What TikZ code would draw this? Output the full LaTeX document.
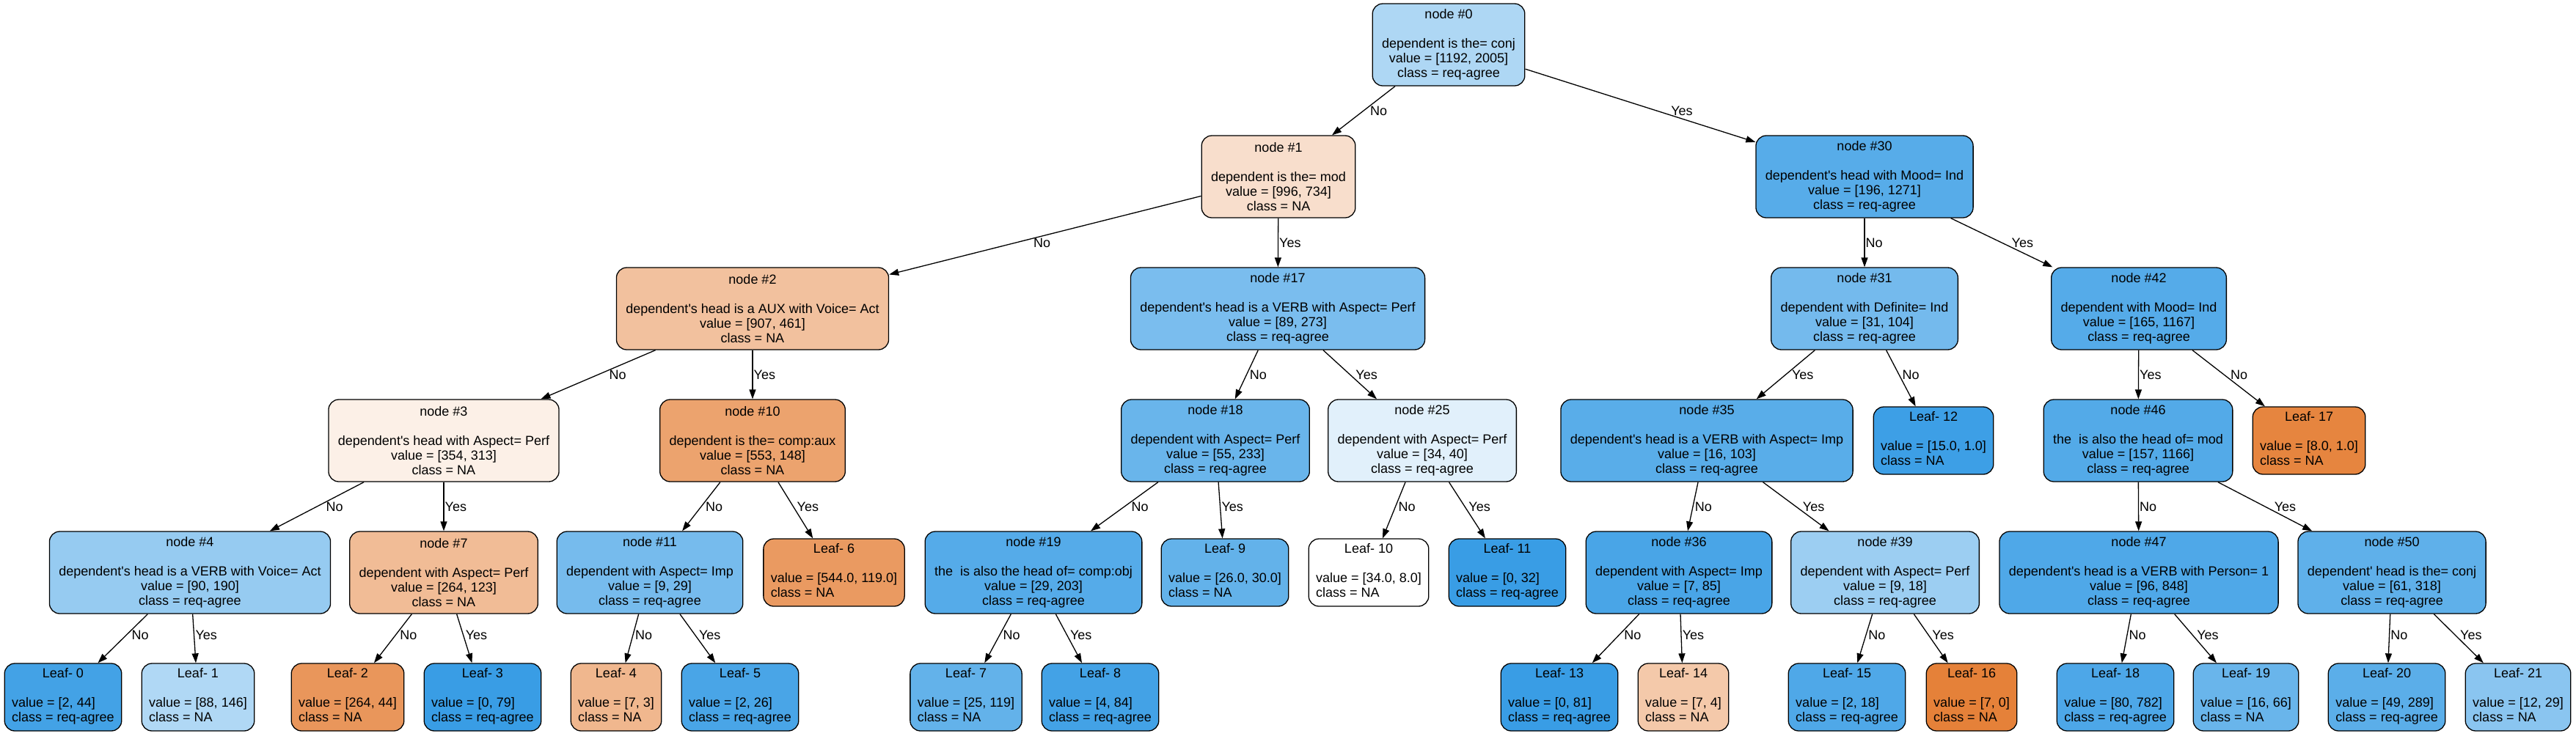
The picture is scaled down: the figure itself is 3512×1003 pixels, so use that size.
\documentclass[tikz,border=0pt]{standalone}
\usepackage{fontspec}
\setmainfont{Liberation Sans}[Ligatures=TeXOff]
\usetikzlibrary{arrows.meta,calc}
\definecolor{reqagree}{HTML}{399DE5}
\definecolor{clsna}{HTML}{E58139}
\newcommand{\splitlbl}[4]{node \##1\\[10pt]#2\\value = #3\\class = #4}
\newcommand{\leaflbl}[3]{Leaf- #1\\[10pt]\begin{tabular}[t]{@{}l@{}}value = #2\\class = #3\end{tabular}}
\tikzset{
  every picture/.style={line width=0.65pt, font=\fontsize{9}{10}\selectfont},
  splitbox/.style={draw=black, rounded corners=7pt, align=center, inner xsep=6.5pt, inner ysep=0pt, minimum height=56pt},
  leafbox/.style={draw=black, rounded corners=7pt, align=center, inner xsep=5pt, inner ysep=0pt, minimum height=46pt},
  link/.style={-{Triangle[length=6.5pt, width=4.5pt]}, draw=black},
  ans/.style={anchor=west, inner sep=0pt},
}

\begin{document}
\begin{tikzpicture}[x=0.5pt, y=-0.5pt]
\useasboundingbox (0,0) rectangle (3512,1003);
% depth 0 and 1
\node[splitbox, fill=reqagree!41] (n0) at (1975,61) {\splitlbl{0}{dependent is the= conj}{[1192, 2005]}{req-agree}};
\node[splitbox, fill=clsna!26] (n1) at (1743,241) {\splitlbl{1}{dependent is the= mod}{[996, 734]}{NA}};
\node[splitbox, fill=reqagree!85] (n30) at (2542,241) {\splitlbl{30}{dependent's head with Mood= Ind}{[196, 1271]}{req-agree}};
% depth 2
\node[splitbox, fill=clsna!49] (n2) at (1026,421) {\splitlbl{2}{dependent's head is a AUX with Voice= Act}{[907, 461]}{NA}};
\node[splitbox, fill=reqagree!67] (n17) at (1742,421) {\splitlbl{17}{dependent's head is a VERB with Aspect= Perf}{[89, 273]}{req-agree}};
\node[splitbox, fill=reqagree!70] (n31) at (2542,421) {\splitlbl{31}{dependent with Definite= Ind}{[31, 104]}{req-agree}};
\node[splitbox, fill=reqagree!86] (n42) at (2916,421) {\splitlbl{42}{dependent with Mood= Ind}{[165, 1167]}{req-agree}};
% depth 3
\node[splitbox, fill=clsna!12] (n3) at (605,601) {\splitlbl{3}{dependent's head with Aspect= Perf}{[354, 313]}{NA}};
\node[splitbox, fill=clsna!73] (n10) at (1026,601) {\splitlbl{10}{dependent is the= comp:aux}{[553, 148]}{NA}};
\node[splitbox, fill=reqagree!76] (n18) at (1657,601) {\splitlbl{18}{dependent with Aspect= Perf}{[55, 233]}{req-agree}};
\node[splitbox, fill=reqagree!15] (n25) at (1939,601) {\splitlbl{25}{dependent with Aspect= Perf}{[34, 40]}{req-agree}};
\node[splitbox, fill=reqagree!84] (n35) at (2327,601) {\splitlbl{35}{dependent's head is a VERB with Aspect= Imp}{[16, 103]}{req-agree}};
\node[leafbox, fill=reqagree!98] (l12) at (2636,601) {\leaflbl{12}{[15.0, 1.0]}{NA}};
\node[splitbox, fill=reqagree!87] (n46) at (2915,601) {\splitlbl{46}{the~ is also the head of= mod}{[157, 1166]}{req-agree}};
\node[leafbox, fill=clsna!97] (l17) at (3148,601) {\leaflbl{17}{[8.0, 1.0]}{NA}};
% depth 4
\node[splitbox, fill=reqagree!53] (n4) at (259,781) {\splitlbl{4}{dependent's head is a VERB with Voice= Act}{[90, 190]}{req-agree}};
\node[splitbox, fill=clsna!53] (n7) at (605,781) {\splitlbl{7}{dependent with Aspect= Perf}{[264, 123]}{NA}};
\node[splitbox, fill=reqagree!69] (n11) at (886,781) {\splitlbl{11}{dependent with Aspect= Imp}{[9, 29]}{req-agree}};
\node[leafbox, fill=clsna!80] (l6) at (1137,781) {\leaflbl{6}{[544.0, 119.0]}{NA}};
\node[splitbox, fill=reqagree!86] (n19) at (1409,781) {\splitlbl{19}{the~ is also the head of= comp:obj}{[29, 203]}{req-agree}};
\node[leafbox, fill=reqagree!79] (l9) at (1670,781) {\leaflbl{9}{[26.0, 30.0]}{NA}};
\node[leafbox, fill=white] (l10) at (1866,781) {\leaflbl{10}{[34.0, 8.0]}{NA}};
\node[leafbox, fill=reqagree] (l11) at (2055,781) {\leaflbl{11}{[0, 32]}{req-agree}};
\node[splitbox, fill=reqagree!92] (n36) at (2289,781) {\splitlbl{36}{dependent with Aspect= Imp}{[7, 85]}{req-agree}};
\node[splitbox, fill=reqagree!50] (n39) at (2570,781) {\splitlbl{39}{dependent with Aspect= Perf}{[9, 18]}{req-agree}};
\node[splitbox, fill=reqagree!89] (n47) at (2916,781) {\splitlbl{47}{dependent's head is a VERB with Person= 1}{[96, 848]}{req-agree}};
\node[splitbox, fill=reqagree!81] (n50) at (3261,781) {\splitlbl{50}{dependent' head is the= conj}{[61, 318]}{req-agree}};
% depth 5
\node[leafbox, fill=reqagree!95] (l0) at (86,951) {\leaflbl{0}{[2, 44]}{req-agree}};
\node[leafbox, fill=reqagree!40] (l1) at (270,951) {\leaflbl{1}{[88, 146]}{NA}};
\node[leafbox, fill=clsna!83] (l2) at (474,951) {\leaflbl{2}{[264, 44]}{NA}};
\node[leafbox, fill=reqagree] (l3) at (658,951) {\leaflbl{3}{[0, 79]}{req-agree}};
\node[leafbox, fill=clsna!57] (l4) at (840,951) {\leaflbl{4}{[7, 3]}{NA}};
\node[leafbox, fill=reqagree!92] (l5) at (1009,951) {\leaflbl{5}{[2, 26]}{req-agree}};
\node[leafbox, fill=reqagree!79] (l7) at (1317,951) {\leaflbl{7}{[25, 119]}{NA}};
\node[leafbox, fill=reqagree!95] (l8) at (1500,951) {\leaflbl{8}{[4, 84]}{req-agree}};
\node[leafbox, fill=reqagree] (l13) at (2126,951) {\leaflbl{13}{[0, 81]}{req-agree}};
\node[leafbox, fill=clsna!43] (l14) at (2295,951) {\leaflbl{14}{[7, 4]}{NA}};
\node[leafbox, fill=reqagree!89] (l15) at (2518,951) {\leaflbl{15}{[2, 18]}{req-agree}};
\node[leafbox, fill=clsna] (l16) at (2688,951) {\leaflbl{16}{[7, 0]}{NA}};
\node[leafbox, fill=reqagree!90] (l18) at (2884,951) {\leaflbl{18}{[80, 782]}{req-agree}};
\node[leafbox, fill=reqagree!76] (l19) at (3062,951) {\leaflbl{19}{[16, 66]}{NA}};
\node[leafbox, fill=reqagree!83] (l20) at (3254,951) {\leaflbl{20}{[49, 289]}{req-agree}};
\node[leafbox, fill=reqagree!59] (l21) at (3433,951) {\leaflbl{21}{[12, 29]}{NA}};
% branches, answer set just clear of the line
\foreach \a/\b/\t in {n0/n1/No, n0/n30/Yes, n1/n2/No, n1/n17/Yes, n2/n3/No, n2/n10/Yes,
    n3/n4/No, n3/n7/Yes, n4/l0/No, n4/l1/Yes, n7/l2/No, n7/l3/Yes, n10/n11/No, n10/l6/Yes,
    n11/l4/No, n11/l5/Yes, n17/n18/No, n17/n25/Yes, n18/n19/No, n18/l9/Yes, n19/l7/No, n19/l8/Yes,
    n25/l10/No, n25/l11/Yes, n30/n31/No, n30/n42/Yes, n31/n35/Yes, n31/l12/No, n35/n36/No, n35/n39/Yes,
    n36/l13/No, n36/l14/Yes, n39/l15/No, n39/l16/Yes, n42/n46/Yes, n42/l17/No, n46/n47/No, n46/n50/Yes,
    n47/l18/No, n47/l19/Yes, n50/l20/No, n50/l21/Yes}{
  \draw[link] (\a) -- (\b);
  \path let \p1=(\a.center), \p2=(\b.center), \n1={abs(\x2-\x1)*0.032+0.5} in
    node[ans] (t\a\b) at ($(\p1)!0.5!(\p2)+({\n1*1pt},0)$) {\t};
}
\end{tikzpicture}
\end{document}
